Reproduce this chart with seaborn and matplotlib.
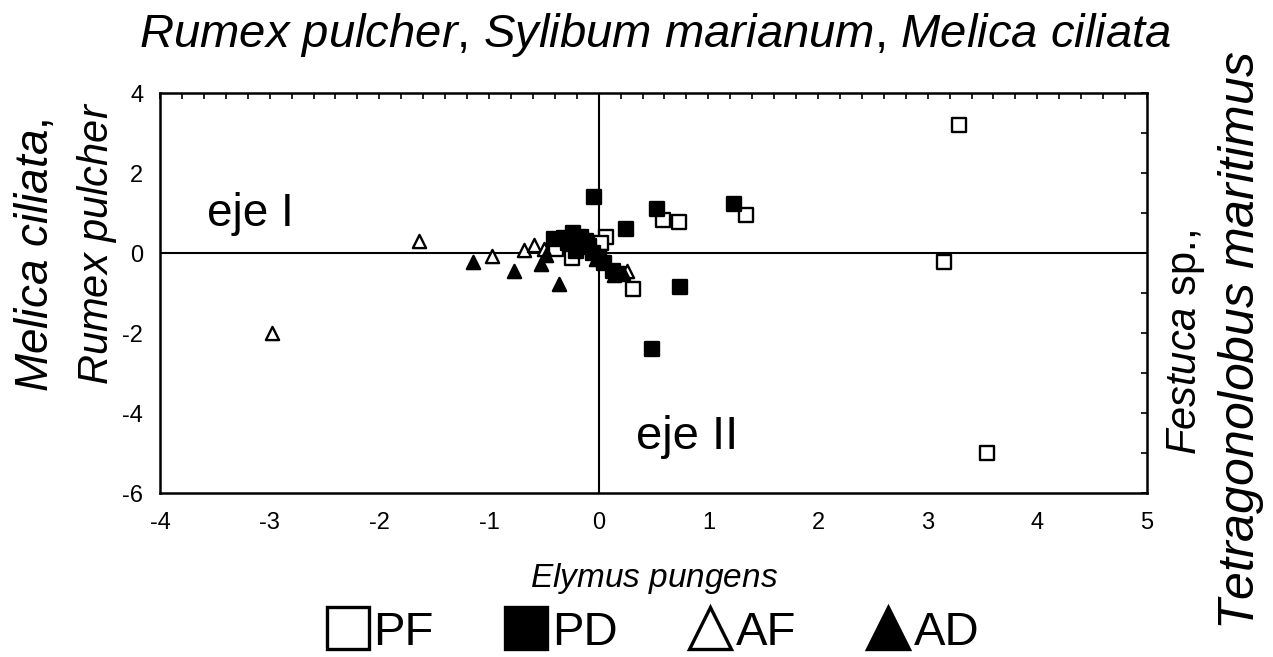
import numpy as np
import pandas as pd
import matplotlib
matplotlib.use("Agg")
import matplotlib.pyplot as plt
from matplotlib.ticker import MultipleLocator
from matplotlib.lines import Line2D
import seaborn as sns

sns.set_theme(style="white")
plt.rcParams['font.family'] = ['Liberation Sans', 'DejaVu Sans']
plt.rcParams['mathtext.fontset'] = 'custom'
plt.rcParams['mathtext.it'] = 'Liberation Sans:italic'
plt.rcParams['mathtext.rm'] = 'Liberation Sans'
plt.rcParams['axes.unicode_minus'] = False
plt.rcParams['text.color'] = 'black'
plt.rcParams['xtick.color'] = 'black'
plt.rcParams['ytick.color'] = 'black'
plt.rcParams['xtick.labelcolor'] = 'black'
plt.rcParams['ytick.labelcolor'] = 'black'

# ---- data ----
pf_x = [3.29, 3.15, 3.54, 1.34, 0.59, 0.73, 0.31, 0.07, 0.02, -0.39, -0.24, -0.12]
pf_y = [3.20, -0.22, -5.00, 0.95, 0.82, 0.78, -0.90, 0.40, 0.25, 0.10, -0.12, 0.15]

pd_x = [-0.04, 0.53, 1.23, 0.25, 0.74, 0.49, -0.41, -0.32, -0.23, -0.16, -0.09, -0.05, -0.21, 0.00, 0.13, 0.18, -0.28, -0.12, 0.05]
pd_y = [1.40, 1.10, 1.22, 0.60, -0.85, -2.40, 0.35, 0.38, 0.50, 0.40, 0.18, 0.00, 0.05, -0.10, -0.45, -0.52, 0.25, 0.30, -0.25]

af_x = [-2.98, -1.64, -0.97, -0.68, -0.59, -0.50, 0.26]
af_y = [-2.00, 0.30, -0.08, 0.08, 0.20, 0.10, -0.45]

ad_x = [-1.15, -0.77, -0.53, -0.36, -0.48, 0.14, 0.22, -0.02]
ad_y = [-0.22, -0.45, -0.28, -0.78, -0.05, -0.55, -0.50, -0.15]

groups = ["PF", "PD", "AF", "AD"]
frames = []
for g, xs, ys in [("PF", pf_x, pf_y), ("PD", pd_x, pd_y), ("AF", af_x, af_y), ("AD", ad_x, ad_y)]:
    frames.append(pd.DataFrame({"x": xs, "y": ys, "grupo": g}))
df = pd.concat(frames, ignore_index=True)

styles = {
    "PF": dict(marker="s", fc="white"),
    "PD": dict(marker="s", fc="black"),
    "AF": dict(marker="^", fc="white"),
    "AD": dict(marker="^", fc="black"),
}

fig = plt.figure(figsize=(12.73, 6.57), dpi=100)
ax = fig.add_axes([0.1257, 0.2496, 0.7753, 0.6088])

ax.axhline(0, color="black", lw=1.5, zorder=1)
ax.axvline(0, color="black", lw=1.5, zorder=1)

for g in groups:
    sub = df[df["grupo"] == g]
    st = styles[g]
    sns.scatterplot(data=sub, x="x", y="y", ax=ax, marker=st["marker"],
                    color=st["fc"], edgecolor="black", linewidth=1.7,
                    s=90, zorder=3, legend=False)

ax.set_xlim(-4, 5)
ax.set_ylim(-6, 4)
ax.xaxis.set_major_locator(MultipleLocator(1))
ax.xaxis.set_minor_locator(MultipleLocator(0.2))
ax.yaxis.set_major_locator(MultipleLocator(2))
ax.yaxis.set_minor_locator(MultipleLocator(1))
ax.tick_params(which="both", direction="in", top=True, right=True,
               length=4, width=1.2, color="black", labelsize=17)
ax.tick_params(axis="x", pad=14)
ax.tick_params(axis="y", pad=12)
for sp in ax.spines.values():
    sp.set_color("black")
    sp.set_linewidth(1.8)
ax.set_xlabel("")
ax.set_ylabel("")

# axis titles
fig.text(0.515, 0.947, r"$\mathit{Rumex\ pulcher}$, $\mathit{Sylibum\ marianum}$, $\mathit{Melica\ ciliata}$",
         ha="center", va="center", fontsize=34)
fig.text(0.514, 0.12, r"$\mathit{Elymus\ pungens}$", ha="center", va="center", fontsize=24)
fig.text(0.028, 0.612, r"$\mathit{Melica\ ciliata}$,", ha="center", va="center", rotation=90, fontsize=33)
fig.text(0.076, 0.63, r"$\mathit{Rumex\ pulcher}$", ha="center", va="center", rotation=90, fontsize=30)
fig.text(0.932, 0.478, r"$\mathit{Festuca}$ sp.,", ha="center", va="center", rotation=90, fontsize=30)
fig.text(0.975, 0.482, r"$\mathit{Tetragonolobus\ maritimus}$", ha="center", va="center", rotation=90, fontsize=36)

ax.text(-3.57, 0.97, "eje I", ha="left", va="center", fontsize=33)
ax.text(0.34, -4.6, "eje II", ha="left", va="center", fontsize=34)

handles = [Line2D([], [], ls="none", marker=styles[g]["marker"], markerfacecolor=styles[g]["fc"],
                  markeredgecolor="black", markeredgewidth=2.4, markersize=30) for g in groups]
fig.legend(handles, groups, loc="center", bbox_to_anchor=(0.513, 0.037), ncol=4, frameon=False,
           fontsize=34, handletextpad=0.1, columnspacing=1.5, handlelength=0.9)

fig.savefig("out.png", dpi=100)
